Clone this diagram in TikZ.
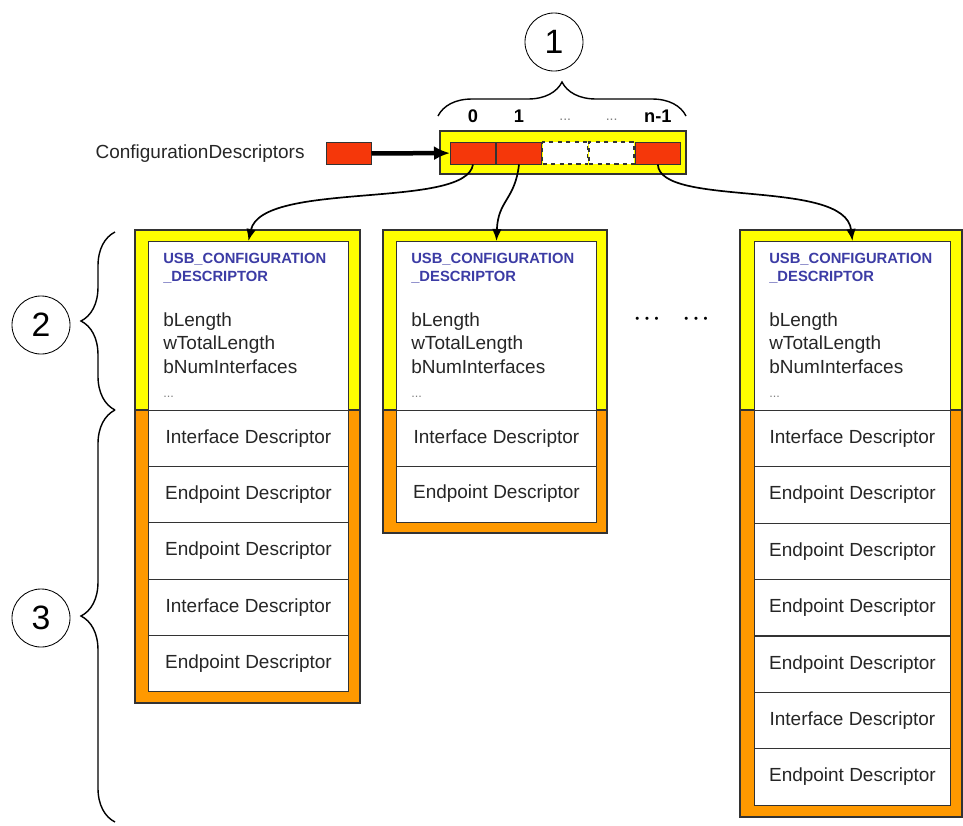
\documentclass[tikz,border=0pt]{standalone}
\usepackage{fontspec}
\setmainfont{Liberation Sans}
\usepackage{xcolor}
\usetikzlibrary{positioning,arrows.meta,calc,decorations.pathreplacing}
\definecolor{cfgyellow}{RGB}{255,255,0}
\definecolor{cfgorange}{RGB}{255,153,0}
\definecolor{cellred}{RGB}{245,55,10}
\definecolor{hdrblue}{RGB}{60,60,165}
\newcommand{\fdots}{{\color{gray}\fontsize{9}{10}\selectfont...}}
\newcommand{\bigdots}{\textbullet\hspace{4pt}\textbullet\hspace{4pt}\textbullet}
\tikzset{
  frame/.style={draw=black!80,line width=0.8pt},
  hdr/.style={draw=black!80,fill=white,line width=0.6pt,anchor=north west,minimum width=5cm,minimum height=4.225cm,inner sep=0pt},
  row/.style={draw=black!80,fill=white,line width=0.6pt,anchor=north west,minimum width=5cm,minimum height=1.405cm,inner sep=0pt,font=\fontsize{13.5}{16}\selectfont,text=black!85},
  ttl/.style={anchor=north west,align=left,inner sep=0pt,font=\fontsize{10.5}{12.8}\selectfont\bfseries,text=hdrblue},
  fld/.style={anchor=north west,align=left,inner sep=0pt,font=\fontsize{13.5}{17}\selectfont,text=black!85},
  cell/.style={draw=black!80,fill=cellred,minimum width=1.125cm,minimum height=0.55cm,inner sep=0pt,line width=0.7pt},
  gapcell/.style={cell,fill=white,dashed,line width=1pt},
  idx/.style={font=\fontsize{13}{15}\selectfont\bfseries},
  gdx/.style={font=\fontsize{10}{12}\selectfont,text=gray},
  num/.style={draw,circle,minimum size=1.45cm,inner sep=0pt,font=\fontsize{24}{28}\selectfont,line width=0.6pt},
  ptr/.style={-{Latex[length=3mm,width=2.4mm]},line width=1.2pt},
  brc/.style={decorate,decoration={brace,amplitude=0.85cm},line width=1pt},
}

\begin{document}
\begin{tikzpicture}[x=0.025cm,y=-0.025cm]
  \useasboundingbox (0,0) rectangle (963,825);
  % pointer array
  \node[draw=black!80,fill=cfgyellow,line width=0.8pt,minimum width=6.15cm,minimum height=1.075cm] (arr) at (563,152.5) {};
  \node[cell] (c0) at (473,153) {};
  \node[cell,right=0pt of c0] (c1) {};
  \node[gapcell,right=0pt of c1] (g0) {};
  \node[gapcell,right=0pt of g0] (g1) {};
  \node[cell,right=0pt of g1] (cn) {};
  \node[idx,above=3.5mm of c0] (i0) {0};
  \node[idx,above=3.5mm of c1] (i1) {1};
  \node[gdx,above=4mm of g0] (ig0) {...};
  \node[gdx,above=4mm of g1] (ig1) {...};
  \node[idx,above=3.5mm of cn] (in) {n-1};
  \node[cell] (src) at (348.5,153.5) {};
  \node[left=4mm of src,font=\fontsize{13.5}{16}\selectfont,text=black!85] (cdl) {ConfigurationDescriptors};
  \draw[-{Latex[length=4mm,width=3.5mm]},line width=3.2pt] (src) -- (c0);
  % first configuration
  \fill[cfgyellow] (135,230) rectangle (360,410);
  \fill[cfgorange] (135,410) rectangle (360,703);
  \draw[frame] (135,230) rectangle (360,703) (135,410) -- (360,410);
  \node[hdr] (h0) at (148,241) {};
  \node[ttl] (t0) at ($(h0.north west)+(15,12)$) {USB\_CONFIGURATION\\\_DESCRIPTOR};
  \node[fld] (f0) at ($(h0.north west)+(15,71)$) {bLength\\wTotalLength\\bNumInterfaces\\\fdots};
  \foreach \t [count=\i] in {Interface,Endpoint,Endpoint,Interface,Endpoint}
    \node[row] (r0\i) at (148,{410+(\i-1)*56.2}) {\t{} Descriptor};
  % second configuration
  \fill[cfgyellow] (383,230) rectangle (607,410);
  \fill[cfgorange] (383,410) rectangle (607,533);
  \draw[frame] (383,230) rectangle (607,533) (383,410) -- (607,410);
  \node[hdr] (h1) at (396,241) {};
  \node[ttl] (t1) at ($(h1.north west)+(15,12)$) {USB\_CONFIGURATION\\\_DESCRIPTOR};
  \node[fld] (f1) at ($(h1.north west)+(15,71)$) {bLength\\wTotalLength\\bNumInterfaces\\\fdots};
  \foreach \t [count=\i] in {Interface,Endpoint}
    \node[row] (r1\i) at (396,{410+(\i-1)*55.5}) {\t{} Descriptor};
  % last configuration
  \fill[cfgyellow] (740,230) rectangle (962,410);
  \fill[cfgorange] (740,410) rectangle (962,817);
  \draw[frame] (740,230) rectangle (962,817) (740,410) -- (962,410);
  \node[hdr,minimum width=4.9cm] (h2) at (754,241) {};
  \node[ttl] (t2) at ($(h2.north west)+(15,12)$) {USB\_CONFIGURATION\\\_DESCRIPTOR};
  \node[fld] (f2) at ($(h2.north west)+(15,71)$) {bLength\\wTotalLength\\bNumInterfaces\\\fdots};
  \foreach \t [count=\i] in {Interface,Endpoint,Endpoint,Endpoint,Endpoint,Interface,Endpoint}
    \node[row,minimum width=4.9cm] (r2\i) at (754,{410+(\i-1)*56.4}) {\t{} Descriptor};
  % dots between
  \node[font=\fontsize{8}{10}\selectfont] (d0) at (647,320) {\bigdots};
  \node[font=\fontsize{8}{10}\selectfont,right=4mm of d0] (d1) {\bigdots};
  % pointers to descriptors
  \draw[ptr] (c0.south) .. controls (466,210) and (262,180) .. (h0.north);
  \draw[ptr] (c1.south) .. controls (515,200) and (498,200) .. (h1.north);
  \draw[ptr] (cn.south) .. controls (660,208) and (845,178) .. (h2.north);
  % numbered braces
  \node[num] (n1) at (554,42) {1};
  \node[num] (n2) at (41,325) {2};
  \node[num] (n3) at (41,618) {3};
  \draw[brc] (438,116) -- (686,116);
  \draw[brc] (115,410) -- (115,232);
  \draw[brc] (115,822) -- (115,410);
\end{tikzpicture}
\end{document}
